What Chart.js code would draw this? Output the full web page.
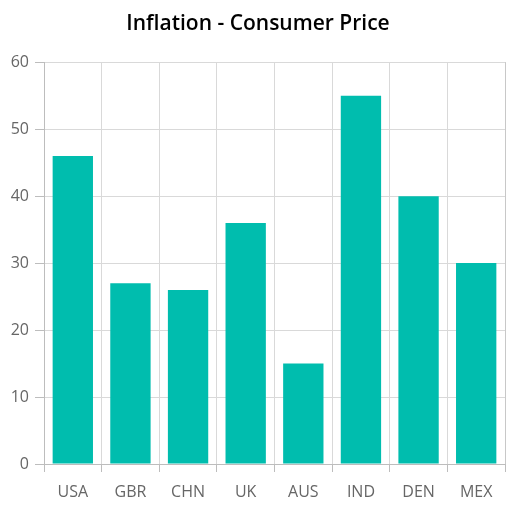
<!DOCTYPE html>
<html>
<head>
<meta charset="utf-8">
<script src="https://cdn.jsdelivr.net/npm/chart.js@4.4.0/dist/chart.umd.min.js"></script>
<style>
html,body{margin:0;padding:0;background:#fff;}
#wrap{width:522px;height:511px;position:relative;}
</style>
</head>
<body>
<div id="wrap"><canvas id="c"></canvas></div>
<script>
const categories = ["USA","GBR","CHN","UK","AUS","IND","DEN","MEX"];
const inflation = [46, 27, 26, 36, 15, 55, 40, 30];
const yMin = 0, yMax = 60, yStep = 10;
const titleText = "Inflation - Consumer Price";

const FONT = "'Open Sans', 'Noto Sans', sans-serif";

const borderPlugin = {
  id: 'plotBorder',
  afterDraw(chart) {
    const a = chart.chartArea, ctx = chart.ctx;
    ctx.save();
    ctx.strokeStyle = '#c8c8c8';
    ctx.lineWidth = 1;
    ctx.beginPath();
    ctx.moveTo(Math.round(a.right) + 0.5, a.top);
    ctx.lineTo(Math.round(a.right) + 0.5, a.bottom);
    ctx.stroke();
    ctx.restore();
  }
};

new Chart(document.getElementById('c'), {
  type: 'bar',
  data: {
    labels: categories,
    datasets: [{
      label: 'Inflation',
      data: inflation,
      backgroundColor: '#00BDAE',
      borderWidth: 0,
      barPercentage: 0.7,
      categoryPercentage: 1.0
    }]
  },
  options: {
    responsive: true,
    maintainAspectRatio: false,
    animation: false,
    layout: { padding: { left: 11, right: 17, top: 0, bottom: 0 } },
    plugins: {
      legend: { display: false },
      tooltip: { enabled: false },
      title: {
        display: true,
        text: titleText,
        color: '#000',
        font: { family: FONT, size: 21, weight: '600', lineHeight: 1.2 },
        padding: { top: 11, bottom: 26 }
      }
    },
    scales: {
      x: {
        grid: { color: '#d9d9d9', tickColor: '#bdbdbd', tickLength: 8, offset: true, drawOnChartArea: true },
        border: { color: '#bdbdbd' },
        ticks: { color: '#666', font: { family: FONT, size: 16 }, padding: 11 },
        afterFit(s) { s.height = 47; }
      },
      y: {
        min: yMin, max: yMax,
        grid: { color: '#d9d9d9', tickColor: '#bdbdbd', tickLength: 9 },
        border: { color: '#bdbdbd' },
        ticks: { stepSize: yStep, color: '#666', font: { family: FONT, size: 16 }, padding: 6 },
        afterFit(s) { s.width = 33; }
      }
    }
  },
  plugins: [borderPlugin]
});
</script>
</body>
</html>
